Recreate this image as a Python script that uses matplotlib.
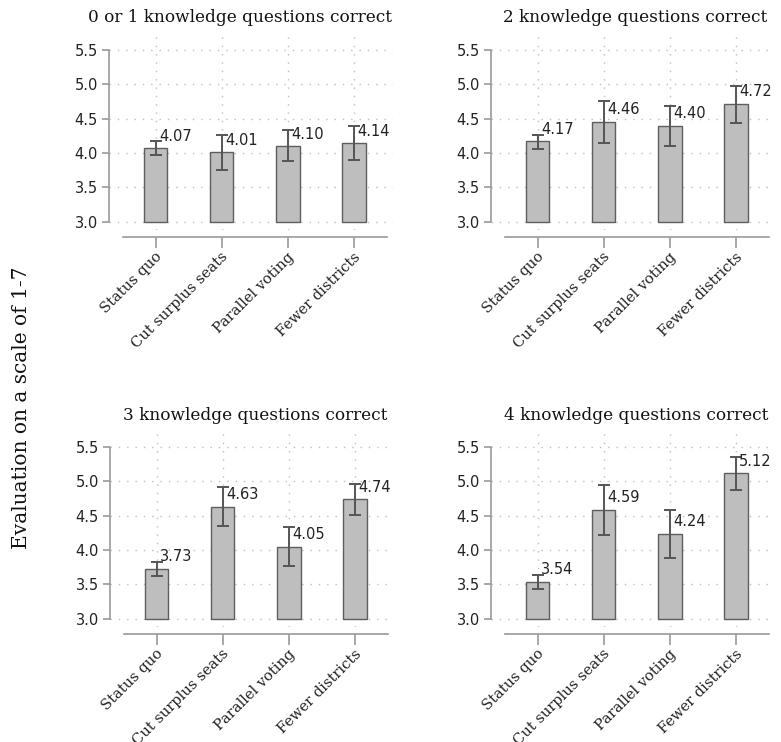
import matplotlib.pyplot as plt
import numpy as np

# Mean evaluation (1-7 scale) of each reform option, by knowledge group,
# with lower / upper ends of the 95% confidence intervals
options = ["Status quo", "Cut surplus seats", "Parallel voting", "Fewer districts"]
titles = [
    "0 or 1 knowledge questions correct",
    "2 knowledge questions correct",
    "3 knowledge questions correct",
    "4 knowledge questions correct",
]
means = [
    [4.07, 4.01, 4.10, 4.14],
    [4.17, 4.46, 4.40, 4.72],
    [3.73, 4.63, 4.05, 4.74],
    [3.54, 4.59, 4.24, 5.12],
]
ci_low = [
    [3.97, 3.76, 3.88, 3.90],
    [4.06, 4.15, 4.11, 4.44],
    [3.63, 4.35, 3.77, 4.51],
    [3.43, 4.22, 3.88, 4.87],
]
ci_high = [
    [4.17, 4.26, 4.33, 4.39],
    [4.27, 4.76, 4.69, 4.98],
    [3.82, 4.92, 4.34, 4.96],
    [3.64, 4.95, 4.59, 5.36],
]
yticks = [3.0, 3.5, 4.0, 4.5, 5.0, 5.5]

W, H = 781, 742
fig = plt.figure(figsize=(W / 100, H / 100), dpi=100)

SERIF = "DejaVu Serif"
SANS = "DejaVu Sans"
AXIS_GREY = "#9a9a9a"

# panel boxes in pixels: left, top, width, height
boxes = [(109, 35, 284, 195), (491, 35, 284, 195),
         (110, 432, 284, 195), (491, 432, 284, 195)]
title_pos = [(240, 17), (635, 17), (255, 416), (636, 416)]

x = np.arange(1, len(options) + 1)

for i, (l, t, w, h) in enumerate(boxes):
    ax = fig.add_axes([l / W, 1 - (t + h) / H, w / W, h / H])
    m = np.array(means[i])
    lo = np.array(ci_low[i])
    hi = np.array(ci_high[i])

    # spine setup first: moving a spine resets the tick objects
    for side in ("top", "right"):
        ax.spines[side].set_visible(False)
    ax.spines["bottom"].set_position(("outward", 5))
    ax.spines["left"].set_bounds(3.0, 5.5)
    ax.spines["left"].set_color(AXIS_GREY)
    ax.spines["left"].set_linewidth(1.2)
    ax.spines["bottom"].set_bounds(0.5, 4.5)
    ax.spines["bottom"].set_color(AXIS_GREY)
    ax.spines["bottom"].set_linewidth(1.2)

    ax.bar(x, m - 3.0, bottom=3.0, width=0.35, color="#bebebe",
           edgecolor="#5e5e5e", linewidth=1.0, zorder=3)
    ax.errorbar(x, m, yerr=[m - lo, hi - m], fmt="none", ecolor="#555555",
                elinewidth=1.4, capsize=4.5, capthick=1.4, zorder=4)
    for xi, mi in zip(x, m):
        ax.annotate(f"{mi:.2f}", (xi, mi), xytext=(3, 12),
                    textcoords="offset pixels", ha="left", va="center",
                    fontsize=10.5, family=SANS, color="#222222", zorder=5)

    ax.set_xlim(0.29, 4.59)
    ax.set_ylim(2.88, 5.72)

    # dotted grid both ways, behind the bars
    for yv in yticks:
        ax.axhline(yv, color="#bdbdbd", lw=1.0, ls=(0, (1, 5)), zorder=1)
    for xv in x:
        ax.axvline(xv, color="#bdbdbd", lw=1.0, ls=(0, (1, 5)), zorder=1)

    ax.tick_params(axis="y", length=5, width=1.2, color=AXIS_GREY, pad=3)
    ax.tick_params(axis="x", length=8, width=1.2, color=AXIS_GREY, pad=2)
    ax.set_yticks(yticks)
    ax.set_yticklabels([f"{v:.1f}" for v in yticks], family=SANS,
                       fontsize=10.5, color="#222222")
    ax.set_xticks(x)
    ax.set_xticklabels(options, rotation=45, ha="right", va="center",
                       rotation_mode="anchor", family=SERIF, fontsize=10.5,
                       color="#222222")
    for lab in ax.get_xticklabels():
        lab.set_transform(lab.get_transform()
                          + plt.matplotlib.transforms.ScaledTranslation(
                              4 / 100, -4 / 100, fig.dpi_scale_trans))
    ax.set_facecolor("none")

    tx, ty = title_pos[i]
    fig.text(tx / W, 1 - ty / H, titles[i], ha="center", va="center",
             family=SERIF, fontsize=12.2, color="#111111")

fig.text(22 / W, 1 - 408 / H, "Evaluation on a scale of 1-7", rotation=90,
         ha="center", va="center", family=SERIF, fontsize=14.5, color="#111111")

fig.savefig("out.png", dpi=100, facecolor="white")
